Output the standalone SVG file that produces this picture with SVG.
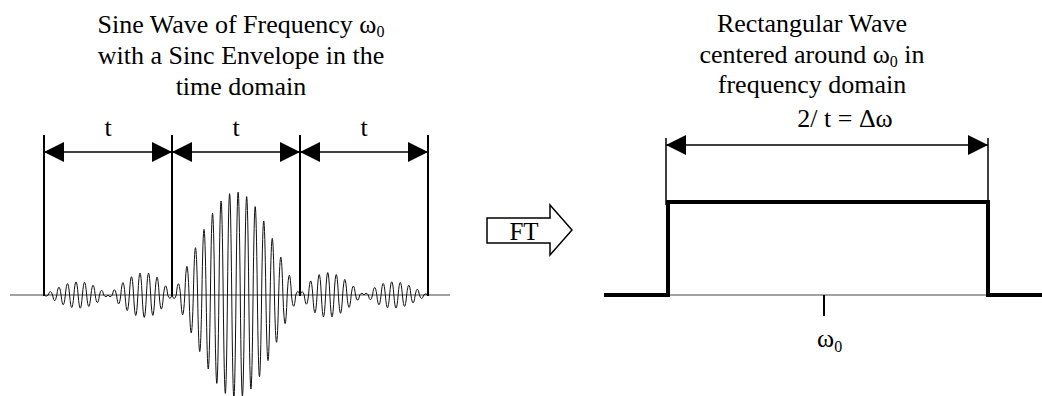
<svg xmlns="http://www.w3.org/2000/svg" width="1042" height="396" viewBox="0 0 1042 396">
<defs>
<marker id="ah" viewBox="0 0 20 20" refX="20" refY="10" markerWidth="20" markerHeight="20" markerUnits="userSpaceOnUse" orient="auto-start-reverse"><path d="M0,0 L20,10 L0,20 Z" fill="#000"/></marker>
</defs>
<style>
text{font-family:"Liberation Serif","Times New Roman",serif;font-size:26px;fill:#000}
.c{text-anchor:middle}
.sub{font-size:16px}
.dim{stroke:#000;stroke-width:1.5;fill:none;marker-start:url(#ah);marker-end:url(#ah)}
.ext{stroke:#000;stroke-width:2}
.ext2{stroke:#000;stroke-width:1.5}
.axis{stroke:#444;stroke-width:1;fill:none}
.wave{stroke:#111;stroke-width:1;fill:none}
.thick{stroke:#000;stroke-width:4;fill:none}
</style>
<rect width="1042" height="396" fill="#fff"/>

<g id="title-time">
<text class="c" x="241" y="33">Sine Wave of Frequency ω<tspan class="sub" dy="4">0</tspan></text>
<text class="c" x="241" y="64">with a Sinc Envelope in the</text>
<text class="c" x="241" y="95">time domain</text>
</g>

<g id="title-freq">
<text class="c" x="812" y="32">Rectangular Wave</text>
<text class="c" x="812" y="63">centered around ω<tspan class="sub" dy="4">0</tspan><tspan dy="-4"> in</tspan></text>
<text class="c" x="812" y="93">frequency domain</text>
</g>

<g id="time-signal">
<line class="axis" x1="10" y1="295" x2="450" y2="295"/>
<path class="wave" d="M44,295 q2.1333,2.4 4.2667,0 2.1333,-7 4.2667,0 2.1333,11.6 4.2667,0 2.1333,-15.8 4.2667,0 2.1333,19.6 4.2667,0 2.1333,-22.8 4.2667,0 2.1333,25 4.2667,0 2.1333,-26.2 4.2667,0 2.1333,26.4 4.2667,0 2.1333,-25.4 4.2667,0 2.1333,23 4.2667,0 2.1333,-19.6 4.2667,0 2.1333,15.2 4.2667,0 2.1333,-9.6 4.2667,0 2.1333,3.4 4.2667,0 2.1333,3.4 4.2667,0 2.1333,-10.6 4.2667,0 2.1333,17.8 4.2667,0 2.1333,-24.8 4.2667,0 2.1333,31.2 4.2667,0 2.1333,-36.6 4.2667,0 2.1333,41 4.2667,0 2.1333,-43.8 4.2667,0 2.1333,44.8 4.2667,0 2.1333,-43.8 4.2667,0 2.1333,40.8 4.2667,0 2.1333,-35.6 4.2667,0 2.1333,28.2 4.2667,0 2.1333,-18.4 4.2667,0 2.1333,6.6 4.2667,0 2.1333,7 4.2667,0 2.1333,-22.6 4.2667,0 2.1333,39.4 4.2667,0 2.1333,-57.2 4.2667,0 2.1333,75.8 4.2667,0 2.1333,-94.6 4.2667,0 2.1333,113.2 4.2667,0 2.1333,-131.2 4.2667,0 2.1333,148 4.2667,0 2.1333,-163.4 4.2667,0 2.1333,176.8 4.2667,0 2.1333,-188 4.2667,0 2.1333,196.8 4.2667,0 2.1333,-202.6 4.2667,0 2.1333,205.6 4.2667,0 2.1333,-205.6 4.2667,0 2.1333,202.6 4.2667,0 2.1333,-196.8 4.2667,0 2.1333,188 4.2667,0 2.1333,-176.8 4.2667,0 2.1333,163.4 4.2667,0 2.1333,-148 4.2667,0 2.1333,131.2 4.2667,0 2.1333,-113.2 4.2667,0 2.1333,94.6 4.2667,0 2.1333,-75.8 4.2667,0 2.1333,57.2 4.2667,0 2.1333,-39.4 4.2667,0 2.1333,22.6 4.2667,0 2.1333,-7 4.2667,0 2.1333,-6.6 4.2667,0 2.1333,18.4 4.2667,0 2.1333,-28.2 4.2667,0 2.1333,35.6 4.2667,0 2.1333,-40.8 4.2667,0 2.1333,43.8 4.2667,0 2.1333,-44.8 4.2667,0 2.1333,43.8 4.2667,0 2.1333,-41 4.2667,0 2.1333,36.6 4.2667,0 2.1333,-31.2 4.2667,0 2.1333,24.8 4.2667,0 2.1333,-17.8 4.2667,0 2.1333,10.6 4.2667,0 2.1333,-3.4 4.2667,0 2.1333,-3.4 4.2667,0 2.1333,9.6 4.2667,0 2.1333,-15.2 4.2667,0 2.1333,19.6 4.2667,0 2.1333,-23 4.2667,0 2.1333,25.4 4.2667,0 2.1333,-26.4 4.2667,0 2.1333,26.2 4.2667,0 2.1333,-25 4.2667,0 2.1333,22.8 4.2667,0 2.1333,-19.6 4.2667,0 2.1333,15.8 4.2667,0 2.1333,-11.6 4.2667,0 2.1333,7 4.2667,0 2.1333,-2.4 4.2667,0"/>
</g>

<g id="time-extents">
<line class="ext" x1="44" y1="135" x2="44" y2="296"/>
<line class="ext" x1="172" y1="135" x2="172" y2="296"/>
<line class="ext" x1="300" y1="135" x2="300" y2="296"/>
<line class="ext" x1="428" y1="135" x2="428" y2="296"/>
<text class="c" x="108" y="136">t</text>
<text class="c" x="236" y="136">t</text>
<text class="c" x="364" y="136">t</text>
</g>

<g id="ft-arrow">
<polygon points="487,218 550,218 550,205 572,230 550,255 550,243 487,243" fill="#fff" stroke="#000" stroke-width="1.5"/>
<text class="c" x="524" y="240" style="font-size:25px">FT</text>
</g>

<g id="freq-signal">
<line class="ext2" x1="666" y1="138" x2="666" y2="205"/>
<line class="ext2" x1="988" y1="138" x2="988" y2="205"/>
<line class="axis" x1="668" y1="295" x2="988" y2="295"/>
<path class="thick" d="M604,295 H668 V202 H988 V295 H1042"/>
<line x1="824" y1="295" x2="824" y2="316" stroke="#000" stroke-width="2"/>
<text x="817" y="347">ω<tspan class="sub" dy="5">0</tspan></text>
<text class="c" x="845" y="127">2/ t = Δω</text>
</g>

<g id="connectors">
<line class="dim" x1="44" y1="152" x2="172" y2="152"/>
<line class="dim" x1="172" y1="152" x2="300" y2="152"/>
<line class="dim" x1="300" y1="152" x2="428" y2="152"/>
<line class="dim" x1="666" y1="145" x2="988" y2="145"/>
</g>
</svg>
